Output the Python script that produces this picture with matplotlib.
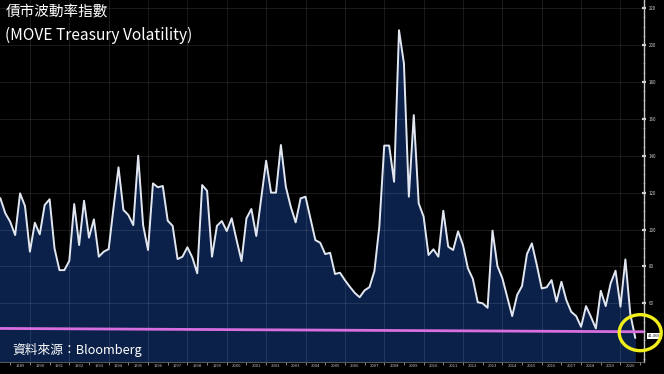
import numpy as np
import matplotlib
matplotlib.use("Agg")
import matplotlib.pyplot as plt
from matplotlib.patches import Ellipse
from matplotlib.transforms import ScaledTranslation

plt.rcParams['font.family'] = ['Noto Sans CJK TC', 'DejaVu Sans']

# MOVE index, quarterly (mid 1988 -> late 2020)
move = [116.9, 108.8, 104.2, 97.0, 119.6, 112.7, 88.0, 103.7, 97.4, 113.3,
        116.4, 89.8, 78.0, 78.0, 83.0, 113.8, 91.6, 115.6, 95.6, 105.5,
        85.3, 88.0, 89.4, 112.0, 133.7, 110.6, 107.9, 102.4, 140.0, 102.4,
        88.9, 125.0, 122.9, 123.6, 104.8, 102.0, 84.0, 85.3, 90.4, 84.9,
        76.3, 124.1, 121.0, 85.3, 102.0, 104.6, 99.2, 106.1, 94.3, 82.9,
        106.1, 111.1, 96.5, 116.9, 137.3, 120.0, 120.0, 145.8, 123.2, 112.4,
        103.9, 116.9, 117.8, 106.1, 94.3, 92.8, 86.7, 87.4, 75.9, 76.6,
        72.6, 69.0, 65.7, 63.3, 67.0, 68.8, 77.5, 101.5, 145.5, 145.5,
        125.9, 208.0, 190.0, 117.8, 162.0, 114.2, 107.0, 86.2, 89.3, 85.3,
        110.2, 90.7, 88.9, 99.0, 91.6, 79.0, 73.3, 60.6, 60.0, 57.6,
        99.4, 80.2, 73.6, 63.3, 53.1, 64.5, 69.4, 86.7, 92.5, 80.8,
        68.1, 68.7, 72.6, 60.9, 71.7, 61.8, 55.4, 53.1, 47.3, 58.5,
        52.7, 46.4, 66.8, 58.5, 70.8, 77.7, 58.2, 83.8, 54.2, 41.4]
start_year = 1988.5
years = start_year + 0.25 * np.arange(len(move))

year_labels = [str(y) for y in range(1989, 2021)]
y_ticks = [60, 80, 100, 120, 140, 160, 180, 200, 220]
low_line = [46.4, 44.6]   # hand drawn pink reference line (left, right)
last_label = "41.469"

title_cn = "債市波動率指數"
title_en = "(MOVE Treasury Volatility)"
source = "資料來源：Bloomberg"

fig = plt.figure(figsize=(6.64, 3.74), dpi=100, facecolor='black')
ax = fig.add_axes([0.0, 0.032, 0.97, 0.968])
ax.set_facecolor('black')

x0, x1 = 1988.48, 2021.2
ax.set_xlim(x0, x1)
ax.set_ylim(28.2, 224.4)

# grid
for v in y_ticks:
    ax.axhline(v, color='white', alpha=0.10, lw=0.8, zorder=2)
for yr in range(1990, 2022, 2):
    ax.axvline(yr, color='white', alpha=0.10, lw=0.8, zorder=2)

ax.fill_between(years, move, 0, color='#0b2149', zorder=1)
ax.plot(years, move, color='#e2e6ef', lw=1.4, zorder=3)

ax.plot([x0, x1], low_line, color='#d96ee0', lw=2, zorder=4)

# right axis
ax.yaxis.tick_right()
ax.set_yticks(y_ticks)
ax.set_yticklabels([str(v) for v in y_ticks])
ax.set_yticks(np.arange(30, 225, 5), minor=True)
ax.tick_params(axis='y', which='major', direction='inout', length=3, width=1.6,
               colors='#d0d0d0', labelsize=3.2, pad=2)
ax.tick_params(axis='y', which='minor', direction='inout', length=1.5, width=0.6,
               colors='#707070')

# bottom axis: ticks at year boundaries, labels centered in each year
ax.set_xticks(range(1989, 2022))
ax.set_xticklabels([])
ax.set_xticks([int(s) + 0.5 for s in year_labels], minor=True)
ax.set_xticklabels(year_labels, minor=True)
ax.tick_params(axis='x', which='major', direction='out', length=2, width=0.6,
               colors='#9a9a9a')
ax.tick_params(axis='x', which='minor', length=0, labelsize=3.0,
               colors='#c4c4c4', pad=1.5)

for s in ['top', 'left']:
    ax.spines[s].set_visible(False)
ax.spines['right'].set_color('#c8c8c8')
ax.spines['right'].set_linewidth(1)
ax.spines['bottom'].set_color('#6a6a6a')
ax.spines['bottom'].set_linewidth(0.6)

# last value label and yellow highlight circle
ax.annotate(last_label, xy=(x1, move[-1]), xycoords='data',
            xytext=(3, 1), textcoords='offset points', ha='left', va='center',
            fontsize=3.0, color='#222222', annotation_clip=False,
            bbox=dict(boxstyle='square,pad=0.25', fc='white', ec='none'))

circ = Ellipse((0, 0), 0.42, 0.36, fill=False, ec='#f2ee1c', lw=2.4,
               transform=fig.dpi_scale_trans +
               ScaledTranslation(years[-1], move[-1], ax.transData) +
               ScaledTranslation(0.05, 0.05, fig.dpi_scale_trans),
               clip_on=False, zorder=6)
ax.add_patch(circ)

# titles and source
fig.text(0.008, 0.988, title_cn, color='white', fontsize=10.5, va='top', ha='left')
fig.text(0.007, 0.928, title_en, color='white', fontsize=11.2, va='top', ha='left')
fig.text(0.018, 0.063, source, color='white', fontsize=9.2, va='center', ha='left')

fig.savefig('out.png', dpi=100, facecolor='black')
